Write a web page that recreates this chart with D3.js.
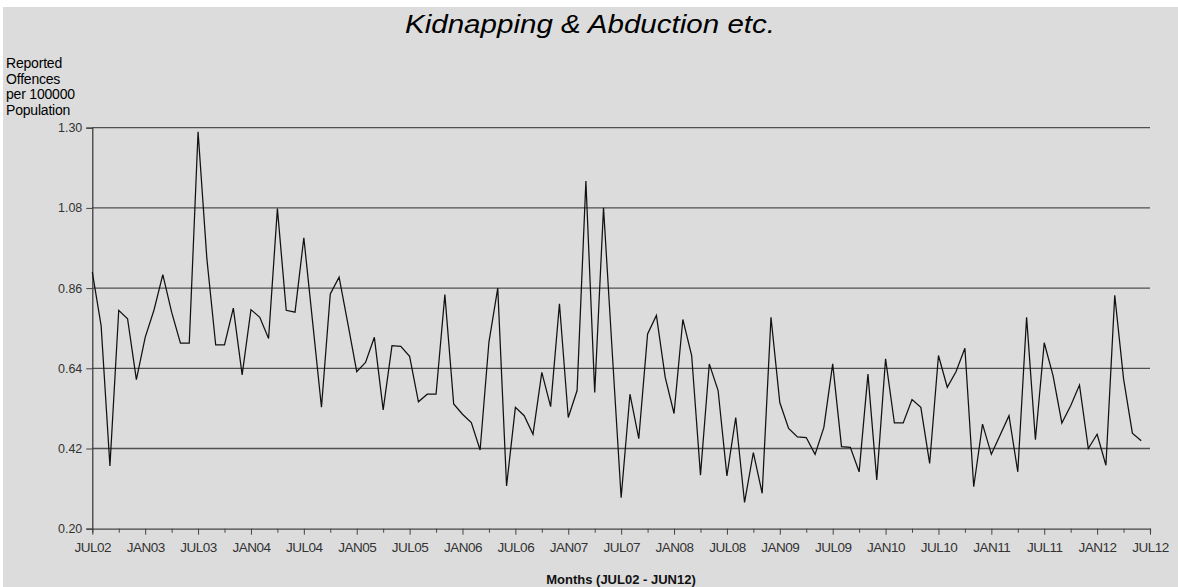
<!DOCTYPE html>
<html><head><meta charset="utf-8">
<script src="https://cdn.jsdelivr.net/npm/d3@7"></script>
<style>
html,body{margin:0;padding:0;background:#fff;}
svg{display:block;}
text{font-family:"Liberation Sans",Arial,sans-serif;}
</style></head>
<body>
<svg id="chart" width="1178" height="587"></svg>
<script>
// ---- data ----
const title = "Kidnapping & Abduction etc.";
const yTitleLines = ["Reported", "Offences", "per 100000", "Population"];
const xTitle = "Months (JUL02 - JUN12)";
const yTicks = [0.20, 0.42, 0.64, 0.86, 1.08, 1.30];
const xTickLabels = ["JUL02","JAN03","JUL03","JAN04","JUL04","JAN05","JUL05","JAN06","JUL06","JAN07","JUL07",
                     "JAN08","JUL08","JAN09","JUL09","JAN10","JUL10","JAN11","JUL11","JAN12","JUL12"];
const values = [
  0.904,0.757,0.372,0.799,0.776,0.609,0.725,0.800,0.897,0.794,0.709,0.709,
  1.289,0.940,0.704,0.704,0.805,0.622,0.801,0.780,0.722,1.078,0.799,0.794,
  0.998,0.766,0.533,0.844,0.890,0.762,0.631,0.656,0.725,0.526,0.702,0.700,
  0.673,0.548,0.569,0.569,0.842,0.542,0.514,0.491,0.416,0.712,0.860,0.317,
  0.533,0.510,0.459,0.629,0.535,0.817,0.505,0.579,1.154,0.574,1.080,0.680,
  0.285,0.569,0.447,0.734,0.785,0.615,0.516,0.774,0.675,0.347,0.652,0.579,
  0.345,0.505,0.272,0.409,0.297,0.780,0.546,0.475,0.452,0.450,0.404,0.478,
  0.652,0.425,0.423,0.356,0.624,0.334,0.666,0.490,0.490,0.554,0.533,0.379,
  0.675,0.588,0.631,0.695,0.315,0.487,0.404,0.457,0.510,0.356,0.780,0.444,
  0.710,0.620,0.490,0.537,0.594,0.420,0.459,0.374,0.840,0.611,0.462,0.441
];

// ---- layout ----
const svg = d3.select("#chart");
const W = 1178, H = 587;
const pLeft = 92.3, pRight = 1150, pTop = 127.7, pBottom = 528.7;

svg.append("rect").attr("x", 3).attr("y", 7).attr("width", W - 3).attr("height", H - 7).attr("fill", "#dcdcdc");

const x = d3.scaleLinear().domain([0, 120]).range([pLeft, pRight]);
const y = d3.scaleLinear().domain([0.20, 1.30]).range([pBottom, pTop]);

// gridlines
svg.append("g").selectAll("line").data(yTicks.slice(1)).join("line")
  .attr("x1", pLeft).attr("x2", pRight)
  .attr("y1", d => y(d)).attr("y2", d => y(d))
  .attr("stroke", "#505050").attr("stroke-width", 1.3);

// y axis
const yAxis = svg.append("g").attr("transform", `translate(${pLeft},0)`)
  .call(d3.axisLeft(y).tickValues(yTicks).tickFormat(d3.format(".2f")).tickSize(6).tickPadding(4));
yAxis.select(".domain").attr("stroke", "#333").attr("stroke-width", 1.2);
yAxis.selectAll(".tick line").attr("stroke", "#444");
yAxis.selectAll(".tick text").attr("fill", "#333").style("font-size", "12.5px")
  .style("font-family", "'Liberation Sans',Arial,sans-serif");

// x axis
const xTickVals = d3.range(0, 121, 3);
const xAxis = svg.append("g").attr("transform", `translate(0,${pBottom})`)
  .call(d3.axisBottom(x).tickValues(xTickVals).tickSizeOuter(0).tickSize(4)
    .tickFormat(d => d % 6 === 0 ? xTickLabels[d / 6] : ""));
xAxis.select(".domain").attr("stroke", "#444").attr("stroke-width", 1.2);
xAxis.selectAll(".tick line").attr("stroke", "#444").attr("y2", d => d % 6 === 0 ? 6 : 4);
xAxis.selectAll(".tick text").attr("fill", "#333").attr("y", 13.5)
  .style("font-size", "13.5px").style("letter-spacing", "-0.5px")
  .style("font-family", "'Liberation Sans',Arial,sans-serif");

// data line
const line = d3.line().x((d, i) => x(i)).y(d => y(d));
svg.append("path").datum(values).attr("d", line)
  .attr("fill", "none").attr("stroke", "#111").attr("stroke-width", 1.25).attr("stroke-linejoin", "miter");

// title
svg.append("text").attr("x", 590).attr("y", 32.5).attr("text-anchor", "middle")
  .attr("textLength", 370).attr("lengthAdjust", "spacingAndGlyphs")
  .style("font-size", "25px").style("font-style", "italic").attr("fill", "#000").text(title);

// y title
svg.append("g").selectAll("text").data(yTitleLines).join("text")
  .attr("x", 6).attr("y", (d, i) => 68 + i * 15.6)
  .style("font-size", "14px").style("letter-spacing", "-0.2px").attr("fill", "#000").text(d => d);

// x title
svg.append("text").attr("x", 621).attr("y", 584).attr("text-anchor", "middle")
  .style("font-size", "13px").style("font-weight", "bold")
  .attr("fill", "#111").text(xTitle);
</script>
</body></html>
